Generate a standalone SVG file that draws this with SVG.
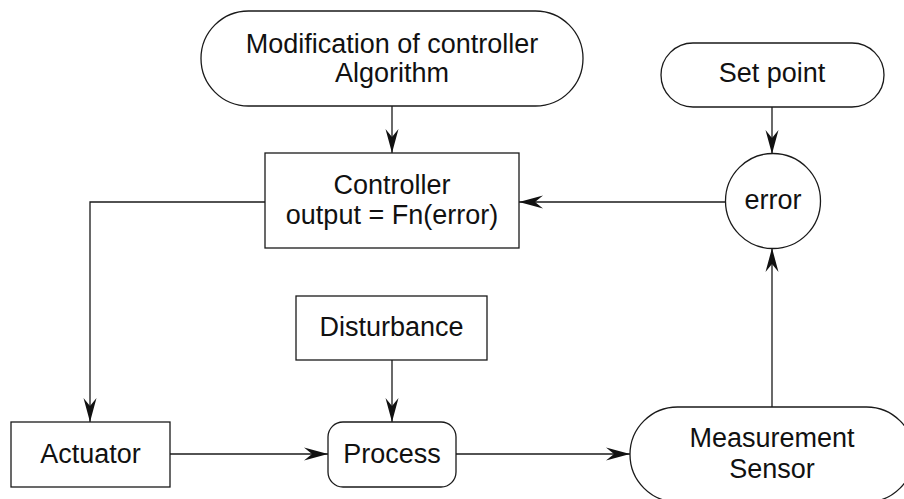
<svg xmlns="http://www.w3.org/2000/svg" width="904" height="499" viewBox="0 0 904 499">
<style>
.n{fill:#fff;stroke:#1a1a1a;stroke-width:1.3}
.c{fill:none;stroke:#1a1a1a;stroke-width:1.3}
text{font-family:"Liberation Sans",Arial,sans-serif;font-size:27px;fill:#111;text-anchor:middle}
</style>
<defs>
<marker id="a" markerUnits="userSpaceOnUse" markerWidth="30" markerHeight="16" viewBox="-25 -8 26 16" refX="0" refY="0" orient="auto">
<path d="M0,0 L-24,-6.5 L-16,0 L-24,6.5 Z" fill="#111"/>
</marker>
</defs>
<rect width="904" height="499" fill="#fff"/>
<g id="connectors">
<path class="c" d="M392,106 V153" marker-end="url(#a)"/>
<path class="c" d="M725,202 H519" marker-end="url(#a)"/>
<path class="c" d="M265,202 H90 V422" marker-end="url(#a)"/>
<path class="c" d="M772,107 V154" marker-end="url(#a)"/>
<path class="c" d="M392,360 V422" marker-end="url(#a)"/>
<path class="c" d="M170,454 H328" marker-end="url(#a)"/>
<path class="c" d="M456,454 H630" marker-end="url(#a)"/>
<path class="c" d="M772,407 V248" marker-end="url(#a)"/>
</g>
<g id="modification">
<rect class="n" x="201" y="11" width="382" height="95" rx="47.5"/>
<text x="392" y="53">Modification of controller</text>
<text x="392" y="82">Algorithm</text>
</g>
<g id="controller">
<rect class="n" x="265" y="153" width="254" height="95"/>
<text x="392" y="194">Controller</text>
<text x="392" y="224">output = Fn(error)</text>
</g>
<g id="setpoint">
<rect class="n" x="661" y="43" width="223" height="64" rx="32"/>
<text x="772" y="82">Set point</text>
</g>
<g id="error">
<circle class="n" cx="773" cy="201" r="47.5"/>
<text x="773" y="209">error</text>
</g>
<g id="disturbance">
<rect class="n" x="296" y="296" width="191" height="64"/>
<text x="391.5" y="336">Disturbance</text>
</g>
<g id="actuator">
<rect class="n" x="11" y="422" width="159" height="65"/>
<text x="90.5" y="463">Actuator</text>
</g>
<g id="process">
<rect class="n" x="328" y="422" width="128" height="65" rx="15"/>
<text x="392" y="463">Process</text>
</g>
<g id="measurement">
<rect class="n" x="630" y="407" width="284" height="95" rx="47.5"/>
<text x="772" y="447">Measurement</text>
<text x="772" y="478">Sensor</text>
</g>
</svg>
